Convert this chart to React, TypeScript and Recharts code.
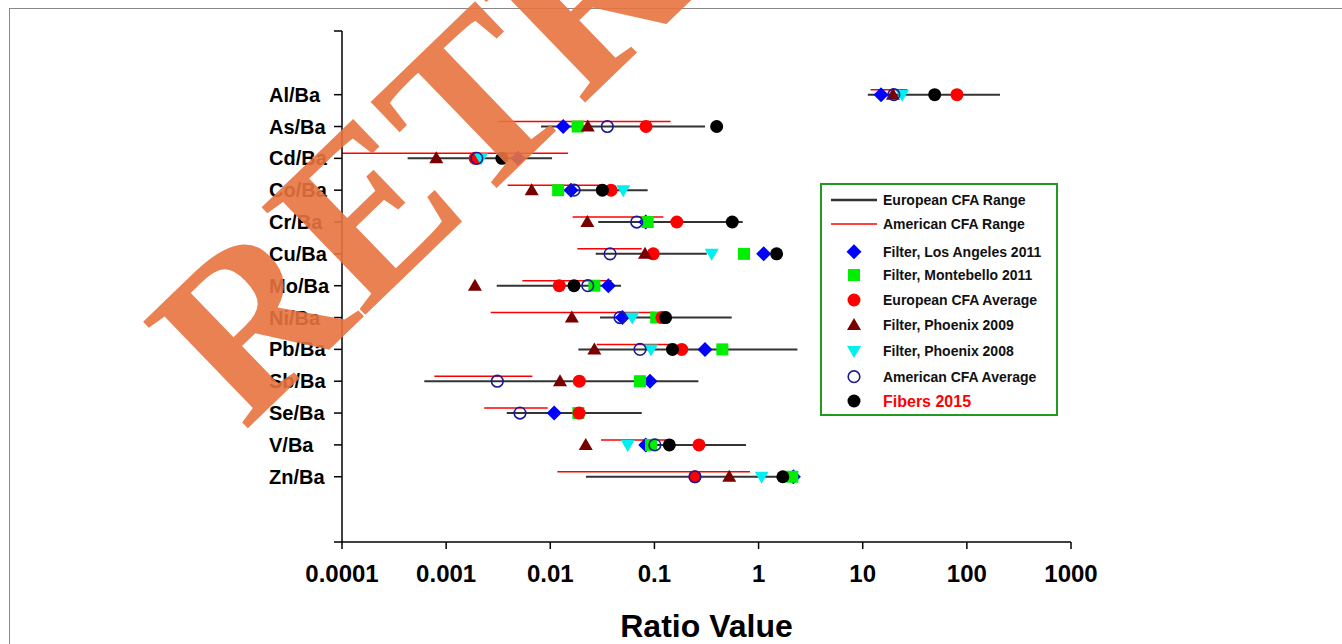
import { ScatterChart, Scatter, XAxis, YAxis, ReferenceLine, Legend } from "recharts";

/* ------------------------------------------------------------------ */
/*  Data                                                               */
/* ------------------------------------------------------------------ */

const categories = ["Al/Ba", "As/Ba", "Cd/Ba", "Co/Ba", "Cr/Ba", "Cu/Ba", "Mo/Ba", "Ni/Ba", "Pb/Ba", "Sb/Ba", "Se/Ba", "V/Ba", "Zn/Ba"];

const xTicks = [0.0001, 0.001, 0.01, 0.1, 1, 10, 100, 1000];
const xTickLabels = ["0.0001", "0.001", "0.01", "0.1", "1", "10", "100", "1000"];

// ranges, one entry per category
const europeanRangeLow = [11.2, 0.00815, 0.000427, 0.0106, 0.0289, 0.0273, 0.00306, 0.03, 0.0186, 0.000617, 0.00382, 0.0727, 0.022];
const europeanRangeHigh = [208, 0.306, 0.0104, 0.0861, 0.704, 0.318, 0.0478, 0.552, 2.36, 0.264, 0.0755, 0.757, 2.41];
const americanRangeLow = [11.9, 0.00315, 0.0001, 0.00389, 0.0164, 0.0182, 0.00539, 0.00268, 0.0279, 0.00077, 0.00232, 0.0307, 0.0117];
const americanRangeHigh = [26.8, 0.143, 0.0148, 0.0335, 0.122, 0.0755, 0.0389, 0.101, 0.161, 0.00672, 0.00944, 0.131, 0.828];

// point series (null = not shown for that ratio)
const losAngeles2011 = [15.0, 0.0133, 0.0049, 0.0158, 0.0825, 1.12, 0.0361, 0.0492, 0.306, 0.0907, 0.0109, 0.0825, 2.16];
const montebello2011 = [null, 0.0183, null, 0.0119, 0.0861, 0.725, 0.0265, 0.104, 0.449, 0.0727, 0.0186, 0.0927, 2.11];
const europeanAverage = [80.4, 0.083, 0.0019, 0.0383, 0.164, 0.0975, 0.0122, 0.118, 0.183, 0.019, 0.0189, 0.268, 0.245];
const phoenix2009 = [19.5, 0.0229, 0.000804, 0.00663, 0.0227, 0.0812, 0.00189, 0.0161, 0.0265, 0.0124, null, 0.0219, 0.523];
const phoenix2008 = [23.9, null, 0.00216, 0.0502, null, 0.355, null, 0.0613, 0.0927, null, null, 0.0554, 1.07];
const americanAverage = [19.9, 0.0353, 0.00197, 0.0169, 0.0676, 0.0375, 0.0229, 0.0467, 0.0727, 0.0031, 0.00512, 0.101, 0.245];
const fibers2015 = [49.1, 0.396, 0.00343, 0.0316, 0.559, 1.49, 0.0169, 0.128, 0.149, null, null, 0.139, 1.71];

/* ------------------------------------------------------------------ */
/*  Markers                                                            */
/* ------------------------------------------------------------------ */

type ShapeProps = { cx?: number; cy?: number };

function Diamond({ cx = 0, cy = 0 }: ShapeProps) {
  const r = 7.5;
  return <path d={`M${cx},${cy - r}L${cx + r},${cy}L${cx},${cy + r}L${cx - r},${cy}Z`} fill="#0000ff" />;
}

function Square({ cx = 0, cy = 0 }: ShapeProps) {
  return <rect x={cx - 6} y={cy - 6} width={12} height={12} fill="#00ee00" />;
}

function RedDot({ cx = 0, cy = 0 }: ShapeProps) {
  return <circle cx={cx} cy={cy} r={6.5} fill="#ff0000" />;
}

function TriangleUp({ cx = 0, cy = 0 }: ShapeProps) {
  return <path d={`M${cx},${cy - 7}L${cx + 7},${cy + 5}L${cx - 7},${cy + 5}Z`} fill="#7a0000" />;
}

function TriangleDown({ cx = 0, cy = 0 }: ShapeProps) {
  return <path d={`M${cx - 7},${cy - 5}L${cx + 7},${cy - 5}L${cx},${cy + 7}Z`} fill="#00f0f0" />;
}

function OpenCircle({ cx = 0, cy = 0 }: ShapeProps) {
  return <circle cx={cx} cy={cy} r={5.8} fill="none" stroke="#1a1a99" strokeWidth={1.6} />;
}

function BlackDot({ cx = 0, cy = 0 }: ShapeProps) {
  return <circle cx={cx} cy={cy} r={6.5} fill="#000" />;
}

const pointSeries = [
  { name: "Filter, Los Angeles 2011", values: losAngeles2011, shape: Diamond },
  { name: "Filter, Montebello 2011", values: montebello2011, shape: Square },
  { name: "European CFA Average", values: europeanAverage, shape: RedDot },
  { name: "Filter, Phoenix 2009", values: phoenix2009, shape: TriangleUp },
  { name: "Filter, Phoenix 2008", values: phoenix2008, shape: TriangleDown },
  { name: "American CFA Average", values: americanAverage, shape: OpenCircle },
  { name: "Fibers 2015", values: fibers2015, shape: BlackDot },
];

function toPoints(values: (number | null)[]) {
  return values
    .map((v, i) => (v == null ? null : { x: v, y: i }))
    .filter((p): p is { x: number; y: number } => p !== null);
}

const FONT = "'Liberation Sans', Arial, sans-serif";

function xLabel(v: number) {
  const i = xTicks.findIndex((t) => Math.abs(Math.log10(t) - Math.log10(v)) < 1e-6);
  return i >= 0 ? xTickLabels[i] : "";
}

function YTick({ y, payload }: { y?: number; payload?: { value: number } }) {
  const v = payload?.value ?? -1;
  const label = Number.isInteger(v) && v >= 0 ? categories[v] : "";
  return (
    <text x={269} y={(y ?? 0) + 7} fontSize={20} fontWeight="bold" fontFamily={FONT} fill="#000">
      {label}
    </text>
  );
}

function RangeLine(props: { x1?: number; y1?: number; x2?: number; y2?: number; stroke?: string; strokeWidth?: number }) {
  const { x1 = 0, y1 = 0, x2 = 0, y2 = 0, stroke, strokeWidth } = props;
  return <line x1={x1} y1={y1} x2={x2} y2={y2} stroke={stroke} strokeWidth={strokeWidth} />;
}

function LegendBox() {
  const rowsY = [68.7, 92, 117, 142, 168, 193.7, 218];
  return (
    <svg width={239} height={234} style={{ display: "block" }}>
      <rect x={1} y={1} width={236} height={231} fill="#fff" stroke="#1f9b1f" strokeWidth={2} />
      <line x1={11} y1={17} x2={57} y2={17} stroke="#333" strokeWidth={2.5} />
      <text x={63} y={22} fontSize={14} fontWeight="bold" fontFamily={FONT} fill="#111">European CFA Range</text>
      <line x1={11} y1={41} x2={57} y2={41} stroke="#ff0000" strokeWidth={1.5} />
      <text x={63} y={46} fontSize={14} fontWeight="bold" fontFamily={FONT} fill="#111">American CFA Range</text>
      {pointSeries.map((s, k) => {
        const Shape = s.shape;
        const last = s.name === "Fibers 2015";
        return (
          <g key={s.name}>
            <Shape cx={34} cy={rowsY[k]} />
            <text
              x={63}
              y={rowsY[k] + (last ? 6 : 5)}
              fontSize={last ? 16 : 14}
              fontWeight="bold"
              fontFamily={FONT}
              fill={last ? "#ff0000" : "#111"}
            >
              {s.name}
            </text>
          </g>
        );
      })}
    </svg>
  );
}

export default function App() {
  return (
    <div style={{ position: "absolute", left: 0, top: 0, width: 1342, height: 644, overflow: "hidden", background: "#fff" }}>
      <div style={{ position: "absolute", left: 9, top: 8, width: 1400, height: 700, border: "1px solid #888" }} />
      <div style={{ position: "absolute", left: 0, top: 0 }}>
        <ScatterChart width={1342} height={644} margin={{ top: 31, right: 271, left: 262, bottom: 0 }}>
          <XAxis
            dataKey="x"
            type="number"
            scale="log"
            domain={[0.0001, 1000]}
            allowDataOverflow
            ticks={xTicks}
            interval={0}
            tickFormatter={xLabel}
            height={102}
            tickSize={7}
            tickMargin={16}
            stroke="#000"
            strokeWidth={1.5}
            tick={{ fontSize: 24, fontWeight: "bold", fontFamily: FONT, fill: "#000" }}
            label={{ value: "Ratio Value", position: "insideBottom", offset: 7, fontSize: 32, fontWeight: "bold", fontFamily: FONT, fill: "#000" }}
          />
          <XAxis xAxisId="top" orientation="top" type="number" domain={[0, 1]} height={0} tick={false} tickLine={false} stroke="#000" strokeWidth={1.5} />
          <YAxis
            dataKey="y"
            type="number"
            domain={[-2, 14.05]}
            reversed
            allowDataOverflow
            ticks={[-2, 0, 1, 2, 3, 4, 5, 6, 7, 8, 9, 10, 11, 12, 14.05]}
            interval={0}
            width={80}
            tickSize={8}
            stroke="#000"
            strokeWidth={1.5}
            tick={<YTick />}
          />
          <YAxis yAxisId="right" orientation="right" type="number" domain={[0, 1]} width={0} tick={false} tickLine={false} stroke="#000" strokeWidth={1.5} />

          {categories.map((c, i) => (
            <ReferenceLine
              key={`eu-${c}`}
              segment={[{ x: europeanRangeLow[i], y: i }, { x: europeanRangeHigh[i], y: i }]}
              ifOverflow="visible"
              stroke="#333"
              strokeWidth={2}
              shape={(p: any) => <RangeLine {...p} stroke="#333" strokeWidth={2} />}
            />
          ))}
          {categories.map((c, i) => (
            <ReferenceLine
              key={`am-${c}`}
              segment={[{ x: americanRangeLow[i], y: i }, { x: americanRangeHigh[i], y: i }]}
              ifOverflow="visible"
              stroke="#ff0000"
              strokeWidth={1.5}
              shape={(p: any) => <RangeLine {...p} y1={p.y1 - 5} y2={p.y2 - 5} stroke="#ff0000" strokeWidth={1.5} />}
            />
          ))}

          {pointSeries.map((s) => (
            <Scatter key={s.name} name={s.name} data={toPoints(s.values)} shape={s.shape} isAnimationActive={false} />
          ))}

          <Legend
            layout="horizontal"
            verticalAlign="middle"
            align="center"
            content={() => <LegendBox />}
            wrapperStyle={{ left: 820, top: 183, width: 239, height: 234 }}
          />
        </ScatterChart>
      </div>
      <svg width={1342} height={644} style={{ position: "absolute", left: 0, top: 0, pointerEvents: "none" }}>
        <text
          x={244}
          y={432}
          transform="rotate(-44 244 432)"
          fontSize={228}
          fontWeight="bold"
          fontFamily="'Liberation Serif', 'DejaVu Serif', serif"
          fill="#e8733f"
          fillOpacity={0.9}
        >
          RETRACTED
        </text>
      </svg>
    </div>
  );
}
